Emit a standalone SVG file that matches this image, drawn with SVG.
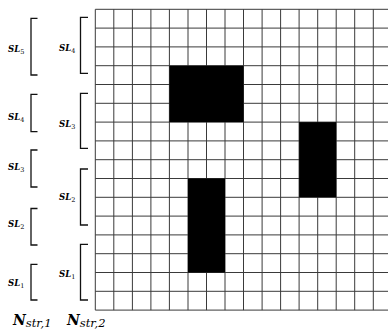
<svg xmlns="http://www.w3.org/2000/svg" width="388" height="331" viewBox="0 0 388 331">
<style>
.g line{stroke:#3a3a3a;stroke-width:1}
.br{fill:none;stroke:#111;stroke-width:1.3}
.sl{font-family:"DejaVu Serif",serif;font-weight:bold;font-style:italic;font-size:8.5px;fill:#000}
.sub{font-family:"DejaVu Serif",serif;font-weight:normal;font-style:normal;font-size:6.5px}
.n{font-family:"DejaVu Serif",serif;font-weight:bold;font-style:italic;font-size:14px;fill:#000}
.ns{font-weight:normal;font-style:italic;font-size:11.5px}
.blk{fill:#000}
</style>
<rect width="388" height="331" fill="#fff"/>
<g id="grid" class="g">
<line x1="95.3" y1="9.3" x2="388" y2="9.3"/>
<line x1="95.3" y1="28.1" x2="388" y2="28.1"/>
<line x1="95.3" y1="46.9" x2="388" y2="46.9"/>
<line x1="95.3" y1="65.7" x2="388" y2="65.7"/>
<line x1="95.3" y1="84.5" x2="388" y2="84.5"/>
<line x1="95.3" y1="103.3" x2="388" y2="103.3"/>
<line x1="95.3" y1="122.1" x2="388" y2="122.1"/>
<line x1="95.3" y1="140.9" x2="388" y2="140.9"/>
<line x1="95.3" y1="159.7" x2="388" y2="159.7"/>
<line x1="95.3" y1="178.5" x2="388" y2="178.5"/>
<line x1="95.3" y1="197.3" x2="388" y2="197.3"/>
<line x1="95.3" y1="216.1" x2="388" y2="216.1"/>
<line x1="95.3" y1="234.9" x2="388" y2="234.9"/>
<line x1="95.3" y1="253.7" x2="388" y2="253.7"/>
<line x1="95.3" y1="272.5" x2="388" y2="272.5"/>
<line x1="95.3" y1="291.3" x2="388" y2="291.3"/>
<line x1="95.3" y1="310.1" x2="388" y2="310.1"/>
<line x1="95.3" y1="9.3" x2="95.3" y2="310.1"/>
<line x1="113.8" y1="9.3" x2="113.8" y2="310.1"/>
<line x1="132.4" y1="9.3" x2="132.4" y2="310.1"/>
<line x1="150.9" y1="9.3" x2="150.9" y2="310.1"/>
<line x1="169.4" y1="9.3" x2="169.4" y2="310.1"/>
<line x1="188" y1="9.3" x2="188" y2="310.1"/>
<line x1="206.5" y1="9.3" x2="206.5" y2="310.1"/>
<line x1="225" y1="9.3" x2="225" y2="310.1"/>
<line x1="243.5" y1="9.3" x2="243.5" y2="310.1"/>
<line x1="262.1" y1="9.3" x2="262.1" y2="310.1"/>
<line x1="280.6" y1="9.3" x2="280.6" y2="310.1"/>
<line x1="299.1" y1="9.3" x2="299.1" y2="310.1"/>
<line x1="317.7" y1="9.3" x2="317.7" y2="310.1"/>
<line x1="336.2" y1="9.3" x2="336.2" y2="310.1"/>
<line x1="354.7" y1="9.3" x2="354.7" y2="310.1"/>
<line x1="373.3" y1="9.3" x2="373.3" y2="310.1"/>
</g>
<g id="blocks">
<rect class="blk" x="169.4" y="65.7" width="74.1" height="56.4"/>
<rect class="blk" x="188" y="178.5" width="37" height="94"/>
<rect class="blk" x="299.1" y="122.1" width="37.1" height="75.2"/>
</g>
<g id="col1">
<g id="c1-sl5"><path class="br" d="M37.5 18.3H31V75H37.5"/><text class="sl" x="8" y="52">SL<tspan class="sub" dy="1.5">5</tspan></text></g>
<g id="c1-sl4"><path class="br" d="M37.5 94.3H31V131.7H37.5"/><text class="sl" x="8" y="120">SL<tspan class="sub" dy="1.5">4</tspan></text></g>
<g id="c1-sl3"><path class="br" d="M37.5 150H31V187H37.5"/><text class="sl" x="8" y="170">SL<tspan class="sub" dy="1.5">3</tspan></text></g>
<g id="c1-sl2"><path class="br" d="M37.5 208.5H31V245H37.5"/><text class="sl" x="8" y="227">SL<tspan class="sub" dy="1.5">2</tspan></text></g>
<g id="c1-sl1"><path class="br" d="M37.5 264.3H31V300H37.5"/><text class="sl" x="8" y="286">SL<tspan class="sub" dy="1.5">1</tspan></text></g>
</g>
<g id="col2">
<g id="c2-sl4"><path class="br" d="M88 17.3H80.5V73.3H88"/><text class="sl" x="59" y="51">SL<tspan class="sub" dy="1.5">4</tspan></text></g>
<g id="c2-sl3"><path class="br" d="M88 93.3H80.5V148.3H88"/><text class="sl" x="59" y="127">SL<tspan class="sub" dy="1.5">3</tspan></text></g>
<g id="c2-sl2"><path class="br" d="M88 169H80.5V225H88"/><text class="sl" x="59" y="200">SL<tspan class="sub" dy="1.5">2</tspan></text></g>
<g id="c2-sl1"><path class="br" d="M88 244.3H80.5V300H88"/><text class="sl" x="59" y="277">SL<tspan class="sub" dy="1.5">1</tspan></text></g>
</g>
<g id="axis-labels">
<text class="n" x="13" y="325">N<tspan class="ns" dy="1.5">str,1</tspan></text>
<text class="n" x="67" y="325">N<tspan class="ns" dy="1.5">str,2</tspan></text>
</g>
</svg>
